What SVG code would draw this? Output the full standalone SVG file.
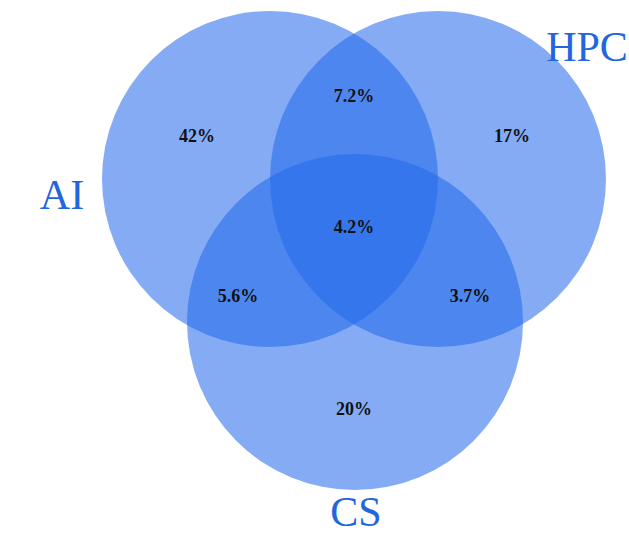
<svg xmlns="http://www.w3.org/2000/svg" width="629" height="536" viewBox="0 0 629 536">
<style>
.set{fill:rgb(35,105,235);fill-opacity:0.56}
.pct{font-family:"Liberation Serif",serif;font-weight:bold;font-size:18px;fill:#111;text-anchor:middle}
.lbl{font-family:"Liberation Serif",serif;font-size:42px;fill:#2266dd;text-anchor:middle}
</style>
<rect width="629" height="536" fill="#fff"/>
<g id="connectors"/>
<g id="set-ai"><circle class="set" cx="270" cy="179" r="168"/></g>
<g id="set-hpc"><circle class="set" cx="438" cy="179" r="168"/></g>
<g id="set-cs"><circle class="set" cx="355" cy="322" r="168"/></g>
<g id="labels">
<text class="lbl" x="62" y="209">AI</text>
<text class="lbl" x="587" y="61">HPC</text>
<text class="lbl" x="356" y="526">CS</text>
</g>
<g id="values">
<text class="pct" x="197" y="142">42%</text>
<text class="pct" x="354" y="102">7.2%</text>
<text class="pct" x="512" y="142">17%</text>
<text class="pct" x="354" y="233">4.2%</text>
<text class="pct" x="238" y="302">5.6%</text>
<text class="pct" x="470" y="302">3.7%</text>
<text class="pct" x="354" y="415">20%</text>
</g>
</svg>
